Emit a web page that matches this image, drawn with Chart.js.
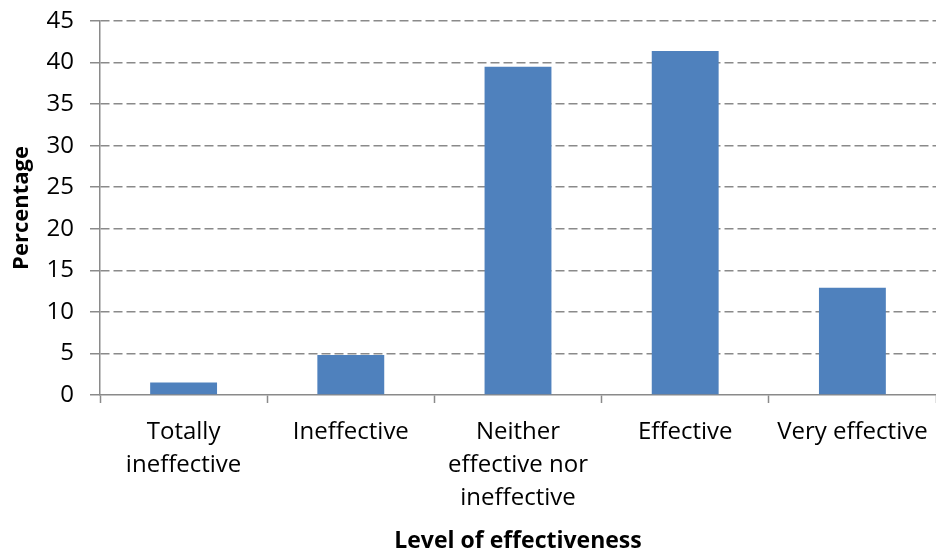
<!DOCTYPE html>
<html>
<head>
<meta charset="utf-8">
<script src="https://cdn.jsdelivr.net/npm/chart.js@4"></script>
<style>
  html, body { margin: 0; padding: 0; background: #fff; }
  canvas { display: block; }
</style>
</head>
<body>
<canvas id="chart" width="936" height="554"></canvas>
<script>
// Share of respondents by perceived level of effectiveness
const categories = [
  ['Totally', 'ineffective'],
  ['Ineffective'],
  ['Neither', 'effective nor', 'ineffective'],
  ['Effective'],
  ['Very effective']
];
const percentages = [1.5, 4.8, 39.5, 41.4, 12.9];
const yTicks = [0, 5, 10, 15, 20, 25, 30, 35, 40, 45];

const FONT = '"Open Sans", Lato, sans-serif';
const GRID = '#8a8a8a';

new Chart(document.getElementById('chart'), {
  type: 'bar',
  data: {
    labels: categories,
    datasets: [{
      data: percentages,
      backgroundColor: '#4F81BD',
      borderWidth: 0,
      categoryPercentage: 1,
      barPercentage: 0.4
    }]
  },
  options: {
    responsive: false,
    animation: false,
    devicePixelRatio: 1,
    layout: { padding: { top: 21, right: 0, bottom: 0, left: 0 } },
    plugins: { legend: { display: false }, tooltip: { enabled: false } },
    scales: {
      x: {
        offset: true,
        grid: {
          display: true,
          drawOnChartArea: false,
          drawTicks: true,
          tickLength: 8,
          tickColor: GRID,
          tickWidth: 1.5,
          offset: true
        },
        border: { display: true, color: GRID, width: 1.5 },
        ticks: {
          color: '#000',
          padding: 13,
          maxRotation: 0,
          autoSkip: false,
          font: { family: FONT, size: 24, lineHeight: '33px' }
        },
        title: {
          display: true,
          text: 'Level of effectiveness',
          color: '#000',
          padding: { top: 4, bottom: 0 },
          font: { family: FONT, size: 23, weight: 'bold', lineHeight: '26px' }
        },
        afterFit(scale) {
          scale.height = 159;
          scale.paddingLeft = 0;
          scale.paddingRight = 0;
        }
      },
      y: {
        min: 0,
        max: 45,
        afterBuildTicks(scale) { scale.ticks = yTicks.map(v => ({ value: v })); },
        grid: {
          color: (ctx) => (ctx.tick && ctx.tick.value === 0 ? 'rgba(0,0,0,0)' : GRID),
          lineWidth: 1.5,
          tickColor: GRID,
          tickWidth: 1.5,
          tickLength: 10,
          drawTicks: true
        },
        border: { display: true, color: GRID, width: 1.5, dash: [9, 4] },
        ticks: {
          color: '#000',
          padding: 16,
          font: { family: FONT, size: 24 }
        },
        title: {
          display: true,
          text: 'Percentage',
          color: '#000',
          padding: { top: 9, bottom: 0 },
          font: { family: FONT, size: 22, weight: 'bold', lineHeight: '26px' }
        },
        afterFit(scale) {
          scale.width = 100;
          scale.paddingTop = 0;
          scale.paddingBottom = 0;
        }
      }
    }
  }
});
</script>
</body>
</html>
